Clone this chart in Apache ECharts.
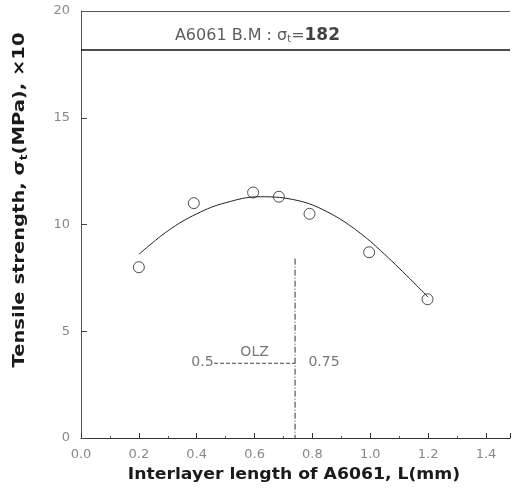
<!DOCTYPE html>
<html>
<head>
<meta charset="utf-8">
<script src="https://cdn.jsdelivr.net/npm/echarts@6/dist/echarts.min.js"></script>
<style>html,body{margin:0;padding:0;background:#fff}#c{width:512px;height:497px}</style>
</head>
<body>
<div id="c"></div>
<script>
// measured points (L in mm, strength x10 MPa)
const pointX = [0.2, 0.39, 0.595, 0.684, 0.79, 0.996, 1.198];
const pointY = [8.0, 11.0, 11.5, 11.3, 10.5, 8.7, 6.5];
// fitted curve
const curveX = [0.2, 0.3, 0.4, 0.5, 0.62, 0.75, 0.85, 0.95, 1.05, 1.2];
const curveY = [8.6, 9.7, 10.5, 11.02, 11.3, 11.12, 10.6, 9.75, 8.6, 6.6];
// reference lines
const baseMetalLines = [20, 18.2];
const olzVertical = [[0.74, 8.4], [0.74, 0]];
const olzHorizontal = [[0.46, 3.5], [0.74, 3.5]];
// annotation texts [x, y, text]
const annotations = [
  [0.42, 3.56, '0.5'],
  [0.60, 4.0, 'OLZ'],
  [0.84, 3.56, '0.75'],
  [0.61, 18.85, '{a|A6061 B.M : σ}{sub|t}{a|=}{b|182}']
];
const xTicks = {min: 0, max: 1.483, interval: 0.2};
const yTicks = {min: 0, max: 20, interval: 5};

const chart = echarts.init(document.getElementById('c'));
const FONT = '"DejaVu Sans", "Liberation Sans", sans-serif';
chart.setOption({
  animation: false,
  backgroundColor: '#fff',
  grid: {left: 81, right: 2, top: 11, bottom: 59},
  xAxis: {
    type: 'value', min: xTicks.min, max: xTicks.max, interval: xTicks.interval,
    axisLine: {lineStyle: {color: '#333', width: 1}},
    axisTick: {inside: true, length: 5, lineStyle: {color: '#333'}},
    minorTick: {show: true, splitNumber: 2, length: 2, lineStyle: {color: '#555'}},
    splitLine: {show: false},
    axisLabel: {
      color: '#888', fontSize: 13, fontFamily: FONT, margin: 10, showMaxLabel: false,
      formatter: v => v.toFixed(1)
    }
  },
  yAxis: {
    type: 'value', min: yTicks.min, max: yTicks.max, interval: yTicks.interval,
    axisLine: {show: true, lineStyle: {color: '#555', width: 1}},
    axisTick: {show: true, inside: true, length: 6, lineStyle: {color: '#444'}},
    splitLine: {show: false},
    axisLabel: {color: '#888', fontSize: 13, fontFamily: FONT, margin: 11}
  },
  graphic: [
    {
      type: 'text', x: 20, y: 200, rotation: Math.PI / 2, scaleX: 1.22,
      style: {
        text: 'Tensile strength, σ{sub|t}(MPa), ×10',
        fill: '#1a1a1a', fontSize: 16, fontFamily: FONT, fontWeight: 'bold',
        align: 'center', verticalAlign: 'middle',
        rich: {sub: {fontSize: 10, fill: '#1a1a1a', fontWeight: 'bold', padding: [8, 0, 0, 0], fontFamily: FONT}}
      }
    },
    {
      type: 'text', x: 294, y: 475, scaleX: 1.15,
      style: {
        text: 'Interlayer length of A6061, L(mm)',
        fill: '#1a1a1a', fontSize: 15, fontFamily: FONT, fontWeight: 'bold',
        align: 'center', verticalAlign: 'middle'
      }
    }
  ],
  series: [
    {
      type: 'line', smooth: 0.4, showSymbol: false, silent: true,
      data: curveX.map((x, i) => [x, curveY[i]]),
      lineStyle: {color: '#222', width: 1},
      markLine: {
        silent: true, symbol: 'none', label: {show: false},
        data: baseMetalLines.map((v, i) => ({yAxis: v, lineStyle: {color: i === 0 ? '#555' : '#111', width: i === 0 ? 1 : 1.5, type: 'solid'}}))
      }
    },
    {
      type: 'scatter', symbol: 'circle', symbolSize: 11,
      data: pointX.map((x, i) => [x, pointY[i]]),
      itemStyle: {color: 'rgba(255,255,255,0)', borderColor: '#222', borderWidth: 1}
    },
    {
      type: 'line', showSymbol: false, silent: true, data: olzVertical,
      lineStyle: {color: '#333', width: 1, type: [6, 2, 1, 2]}
    },
    {
      type: 'line', showSymbol: false, silent: true, data: olzHorizontal,
      lineStyle: {color: '#444', width: 1, type: [4, 2]}
    },
    {
      type: 'scatter', symbolSize: 0, silent: true,
      data: annotations.map(a => ({value: [a[0], a[1]], name: a[2]})),
      label: {
        show: true, position: 'inside', formatter: p => p.name,
        color: '#555', fontSize: 14, fontFamily: FONT,
        rich: {
          a: {fontSize: 16, color: '#333', fontFamily: FONT},
          sub: {fontSize: 10, color: '#333', padding: [7, 0, 0, 0], fontFamily: FONT},
          b: {fontSize: 17, fontWeight: 'bold', color: '#111', fontFamily: FONT}
        }
      }
    }
  ]
});
</script>
</body>
</html>
